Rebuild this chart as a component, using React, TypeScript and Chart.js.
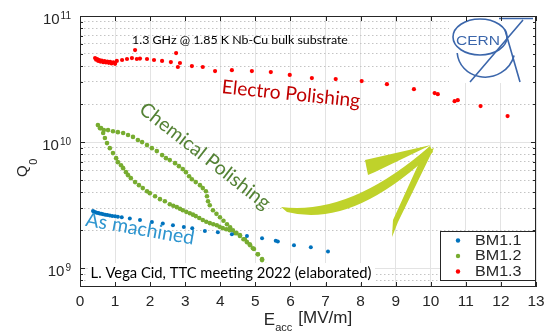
import { useEffect, useRef } from "react";
import { Chart, registerables } from "chart.js";

Chart.register(...registerables);

// Accelerating field E_acc [MV/m] and quality factor Q0 per cavity
const bm11E = [0.37, 0.4, 0.44, 0.48, 0.52, 0.56, 0.61, 0.66, 0.72, 0.78, 0.85, 0.92, 1.0, 1.08, 1.19, 1.42, 1.71, 2.05, 2.36, 2.65, 2.96, 3.2, 3.56, 3.93, 4.33, 4.76, 5.19, 5.58, 5.64, 6.1, 6.58, 7.07];
const bm11Q = [2.85e9, 2.81e9, 2.78e9, 2.76e9, 2.74e9, 2.72e9, 2.7e9, 2.68e9, 2.66e9, 2.64e9, 2.62e9, 2.6e9, 2.58e9, 2.56e9, 2.54e9, 2.48e9, 2.41e9, 2.33e9, 2.26e9, 2.19e9, 2.12e9, 2.08e9, 1.97e9, 1.93e9, 1.86e9, 1.8e9, 1.73e9, 1.65e9, 1.63e9, 1.52e9, 1.47e9, 1.36e9];

const bm12E = [
  0.51, 0.6, 0.68, 0.8, 0.94, 1.08, 1.23, 1.37, 1.51, 1.65, 1.77, 1.91, 2.05, 2.19, 2.34, 2.45, 2.56, 2.71, 2.82, 2.93, 3.02, 3.11, 3.19, 3.3, 3.42, 3.5, 3.59, 3.62, 3.65, 3.7, 3.79, 3.89, 3.99, 4.09, 4.19, 4.28, 4.36, 4.46, 4.56, 4.66, 4.76, 4.85, 4.93, 5.07, 5.19, 5.3, 5.41, 5.5,
  0.57, 0.66, 0.71, 0.77, 0.85, 0.94, 1.03, 1.08, 1.17, 1.23, 1.31, 1.37, 1.45, 1.57, 1.68, 1.79, 1.91, 1.99, 2.14, 2.28, 2.42, 2.56, 2.66, 2.76, 2.85, 2.93, 3.03, 3.13, 3.22, 3.3, 3.4, 3.5, 3.6, 3.7, 3.8, 3.9, 3.98, 4.07, 4.17, 4.27, 4.42, 4.56, 4.7, 4.84, 4.96, 5.07, 5.19, 5.3, 5.41,
];
const bm12Q = [
  1.365e10, 1.29e10, 1.245e10, 1.245e10, 1.22e10, 1.2e10, 1.18e10, 1.14e10, 1.1e10, 1.04e10, 1.0e10, 9.47e9, 8.96e9, 8.49e9, 7.89e9, 7.46e9, 7.2e9, 6.81e9, 6.45e9, 6.11e9, 5.78e9, 5.37e9, 5.08e9, 4.82e9, 4.56e9, 4.32e9, 4.08e9, 3.72e9, 3.4e9, 3.16e9, 2.88e9, 2.7e9, 2.54e9, 2.38e9, 2.23e9, 2.11e9, 2.0e9, 1.9e9, 1.8e9, 1.7e9, 1.61e9, 1.52e9, 1.44e9, 1.29e9, 1.18e9, 1.06e9, 9.47e8, 8.49e8,
  1.29e10, 1.18e10, 1.077e10, 9.82e9, 8.96e9, 8.18e9, 7.46e9, 6.94e9, 6.56e9, 6.22e9, 5.78e9, 5.47e9, 5.18e9, 4.82e9, 4.56e9, 4.32e9, 4.08e9, 3.94e9, 3.72e9, 3.53e9, 3.4e9, 3.22e9, 3.13e9, 3.05e9, 2.96e9, 2.88e9, 2.8e9, 2.73e9, 2.66e9, 2.59e9, 2.5e9, 2.41e9, 2.34e9, 2.28e9, 2.23e9, 2.19e9, 2.13e9, 2.08e9, 2.04e9, 2.0e9, 1.9e9, 1.83e9, 1.7e9, 1.55e9, 1.42e9, 1.29e9, 1.16e9, 1.04e9, 9.29e8,
];

const bm13E = [0.43, 0.46, 0.49, 0.52, 0.55, 0.58, 0.62, 0.66, 0.7, 0.74, 0.78, 0.82, 0.86, 0.9, 0.95, 1.0, 1.05, 1.2, 1.34, 1.48, 1.57, 1.62, 1.71, 1.91, 2.11, 2.34, 2.59, 2.74, 2.79, 2.85, 3.19, 3.5, 3.85, 4.33, 4.9, 5.44, 5.98, 6.61, 7.29, 8.03, 8.75, 9.52, 10.11, 10.2, 10.68, 10.77, 11.42, 12.19];
const bm13Q = [4.64e10, 4.5e10, 4.55e10, 4.4e10, 4.48e10, 4.35e10, 4.42e10, 4.3e10, 4.38e10, 4.28e10, 4.35e10, 4.25e10, 4.32e10, 4.2e10, 4.3e10, 4.18e10, 4.4e10, 4.48e10, 4.56e10, 4.64e10, 5.37e10, 4.56e10, 4.6e10, 4.56e10, 4.48e10, 4.4e10, 4.31e10, 5.08e10, 3.94e10, 4.24e10, 4.01e10, 3.94e10, 3.66e10, 3.72e10, 3.66e10, 3.59e10, 3.41e10, 3.22e10, 3.16e10, 3.05e10, 2.88e10, 2.63e10, 2.45e10, 2.4e10, 2.11e10, 2.15e10, 1.93e10, 1.61e10];

const seriesNames = ["BM1.1", "BM1.2", "BM1.3"];
const seriesColors = ["#0072BD", "#77AC30", "#FF0000"];

const xTicks = [0, 1, 2, 3, 4, 5, 6, 7, 8, 9, 10, 11, 12, 13];
const yMajor = [1e9, 1e10, 1e11];
const yMinor = [8e8, 9e8, 2e9, 3e9, 4e9, 5e9, 6e9, 7e9, 8e9, 9e9, 2e10, 3e10, 4e10, 5e10, 6e10, 7e10, 8e10, 9e10];
const yExponents = ["9", "10", "11"];
const xMin = 0;
const xMax = 13;
const yMin = 7.1e8;
const yMax = 1e11;

const AXIS = "#262626";
const SANS = "'Liberation Sans', Arial, sans-serif";
const HUMAN = "Lato, 'Open Sans', sans-serif";

function zip(xs: number[], ys: number[]) {
  return xs.map((x, i) => ({ x, y: ys[i] }));
}

function text(ctx: CanvasRenderingContext2D, s: string, x: number, y: number, font: string, color: string, align: CanvasTextAlign = "left", baseline: CanvasTextBaseline = "alphabetic", sx = 1) {
  ctx.save();
  ctx.font = font;
  ctx.fillStyle = color;
  ctx.textAlign = align;
  ctx.textBaseline = baseline;
  ctx.translate(x, y);
  ctx.scale(sx, 1);
  ctx.fillText(s, 0, 0);
  ctx.restore();
}

// Draw a label scaled to a given length, centred and rotated
function fitted(ctx: CanvasRenderingContext2D, s: string, cx: number, cy: number, width: number, color: string, deg: number) {
  ctx.save();
  ctx.font = `20px ${HUMAN}`;
  const m = ctx.measureText(s).width;
  const size = (20 * width) / m;
  ctx.font = `${size}px ${HUMAN}`;
  ctx.translate(cx, cy);
  ctx.rotate((deg * Math.PI) / 180);
  ctx.fillStyle = color;
  ctx.textAlign = "center";
  ctx.textBaseline = "middle";
  ctx.fillText(s, 0, 0);
  ctx.restore();
}

function drawLogo(ctx: CanvasRenderingContext2D) {
  ctx.save();
  ctx.fillStyle = "#fff";
  ctx.fillRect(449, 17, 86, 66);
  ctx.strokeStyle = "#3b66ab";
  ctx.lineWidth = 1.6;
  ctx.beginPath();
  ctx.ellipse(480, 37, 27, 18, 0, 0, Math.PI * 2);
  ctx.stroke();
  ctx.beginPath();
  ctx.ellipse(486, 50, 29, 27, -0.25, 0.15 * Math.PI, 1.05 * Math.PI);
  ctx.stroke();
  ctx.beginPath();
  ctx.moveTo(499, 18.5);
  ctx.lineTo(533, 18.5);
  ctx.moveTo(523, 20);
  ctx.lineTo(470, 82);
  ctx.moveTo(505, 30);
  ctx.lineTo(520, 82);
  ctx.stroke();
  ctx.restore();
  ctx.save();
  ctx.font = `13px ${SANS}`;
  const w = ctx.measureText("CERN").width;
  ctx.translate(478, 41);
  ctx.scale(44 / w, 1);
  ctx.fillStyle = "#3b66ab";
  ctx.textAlign = "center";
  ctx.textBaseline = "middle";
  ctx.fillText("CERN", 0, 0);
  ctx.restore();
}

function drawArrow(ctx: CanvasRenderingContext2D) {
  ctx.save();
  ctx.fillStyle = "#bfd22b";
  ctx.beginPath();
  ctx.moveTo(281, 207);
  ctx.quadraticCurveTo(350, 216, 430, 146);
  ctx.lineTo(433, 152);
  ctx.quadraticCurveTo(352, 229, 287, 212);
  ctx.closePath();
  ctx.fill();
  ctx.beginPath();
  ctx.moveTo(365, 160);
  ctx.lineTo(431, 145);
  ctx.lineTo(375, 172);
  ctx.lineTo(368, 175);
  ctx.closePath();
  ctx.fill();
  ctx.beginPath();
  ctx.moveTo(424, 152);
  ctx.lineTo(434, 148);
  ctx.lineTo(398, 222);
  ctx.lineTo(392, 237);
  ctx.lineTo(393, 220);
  ctx.closePath();
  ctx.fill();
  ctx.restore();
}

const decor = {
  id: "decor",
  afterDatasetsDraw(chart: any) {
    const ctx: CanvasRenderingContext2D = chart.ctx;
    const a = chart.chartArea;
    const xs = chart.scales.x;
    const ys = chart.scales.y;

    drawLogo(ctx);
    drawArrow(ctx);

    // annotations
    fitted(ctx, "1.3 GHz @ 1.85 K Nb-Cu bulk substrate", 240, 40, 216, "#000", 0);
    fitted(ctx, "Electro Polishing", 291, 94, 139, "#c00000", 5.8);
    fitted(ctx, "Chemical Polishing", 205, 156, 160, "#548235", 38);
    fitted(ctx, "As machined", 140, 229, 110, "#2e95cf", 10);
    ctx.fillStyle = "#fff";
    ctx.fillRect(88, 263, 287, 20);
    fitted(ctx, "L. Vega Cid, TTC meeting 2022 (elaborated)", 231, 273, 281, "#000", 0);

    // axes box and inward ticks
    ctx.save();
    ctx.strokeStyle = AXIS;
    ctx.lineWidth = 1;
    ctx.strokeRect(a.left + 0.5, a.top + 0.5, a.right - a.left - 1, a.bottom - a.top - 1);
    ctx.beginPath();
    for (const v of xTicks) {
      const px = Math.round(xs.getPixelForValue(v)) + 0.5;
      ctx.moveTo(px, a.bottom);
      ctx.lineTo(px, a.bottom - 5);
      ctx.moveTo(px, a.top);
      ctx.lineTo(px, a.top + 5);
    }
    for (const v of yMajor) {
      const py = Math.round(ys.getPixelForValue(v)) + 0.5;
      ctx.moveTo(a.left, py);
      ctx.lineTo(a.left + 5, py);
      ctx.moveTo(a.right, py);
      ctx.lineTo(a.right - 5, py);
    }
    for (const v of yMinor) {
      const py = Math.round(ys.getPixelForValue(v)) + 0.5;
      ctx.moveTo(a.left, py);
      ctx.lineTo(a.left + 3, py);
      ctx.moveTo(a.right, py);
      ctx.lineTo(a.right - 3, py);
    }
    ctx.stroke();
    ctx.restore();

    // x tick labels
    for (const v of xTicks) {
      text(ctx, String(v), xs.getPixelForValue(v), a.bottom + 15, `14px ${SANS}`, AXIS, "center", "middle", 1.1);
    }
    // y tick labels: 10 with superscript exponent
    yMajor.forEach((v, i) => {
      const py = ys.getPixelForValue(v);
      const right = 71;
      ctx.save();
      ctx.font = `10px ${SANS}`;
      const ew = ctx.measureText(yExponents[i]).width;
      ctx.restore();
      text(ctx, yExponents[i], right, py + 3, `10px ${SANS}`, AXIS, "right");
      text(ctx, "10", right - ew - 1, py + 8, `15px ${SANS}`, AXIS, "right");
    });

    // axis titles
    ctx.save();
    ctx.fillStyle = AXIS;
    ctx.textBaseline = "alphabetic";
    ctx.font = `17px ${SANS}`;
    const eW = ctx.measureText("E").width;
    ctx.font = `11px ${SANS}`;
    const subW = ctx.measureText("acc").width;
    ctx.font = `17px ${SANS}`;
    const unitW = ctx.measureText("[MV/m]").width;
    const total = eW + subW + 6 + unitW;
    const x0 = (a.left + a.right) / 2 - total / 2;
    ctx.fillText("E", x0, 325);
    ctx.font = `11px ${SANS}`;
    ctx.fillText("acc", x0 + eW, 331);
    ctx.font = `17px ${SANS}`;
    ctx.fillText("[MV/m]", x0 + eW + subW + 6, 323);
    ctx.restore();

    ctx.save();
    ctx.fillStyle = AXIS;
    ctx.translate(27, 177);
    ctx.rotate(-Math.PI / 2);
    ctx.font = `15px ${SANS}`;
    ctx.fillText("Q", 0, 0);
    const qW = ctx.measureText("Q").width;
    ctx.font = `11px ${SANS}`;
    ctx.fillText("0", qW + 0.5, 10);
    ctx.restore();

    // legend
    ctx.save();
    ctx.fillStyle = "#fff";
    ctx.fillRect(440.5, 231.5, 95, 49);
    ctx.strokeStyle = AXIS;
    ctx.lineWidth = 1;
    ctx.strokeRect(440.5, 231.5, 95, 49);
    seriesNames.forEach((n, i) => {
      const ly = 240.5 + i * 15.5;
      ctx.fillStyle = seriesColors[i];
      ctx.beginPath();
      ctx.arc(458, ly, 2.2, 0, Math.PI * 2);
      ctx.fill();
      text(ctx, n, 475, ly + 0.5, `14px ${SANS}`, AXIS, "left", "middle", 1.15);
    });
    ctx.restore();
  },
};

export default function App() {
  const ref = useRef<HTMLCanvasElement | null>(null);

  useEffect(() => {
    if (!ref.current) return;
    const isMajor = (v: number) => yMajor.includes(v);
    const chart = new Chart(ref.current, {
      type: "scatter",
      data: {
        datasets: [
          { label: seriesNames[0], data: zip(bm11E, bm11Q), backgroundColor: seriesColors[0], pointRadius: 2, borderWidth: 0 },
          { label: seriesNames[1], data: zip(bm12E, bm12Q), backgroundColor: seriesColors[1], pointRadius: 2.3, borderWidth: 0 },
          { label: seriesNames[2], data: zip(bm13E, bm13Q), backgroundColor: seriesColors[2], pointRadius: 2.1, borderWidth: 0 },
        ],
      },
      options: {
        responsive: false,
        animation: false,
        devicePixelRatio: 1,
        layout: { padding: { left: 0, top: 16, right: 22, bottom: 0 } },
        plugins: { legend: { display: false }, tooltip: { enabled: false } },
        scales: {
          x: {
            type: "linear",
            min: xMin,
            max: xMax,
            afterBuildTicks: (s: any) => {
              s.ticks = xTicks.map((v) => ({ value: v }));
            },
            afterFit: (s: any) => {
              s.height = 48;
            },
            ticks: { display: false },
            grid: { color: "#e3e3e3", lineWidth: 1, drawTicks: false },
            border: { display: false },
          },
          y: {
            type: "logarithmic",
            min: yMin,
            max: yMax,
            afterBuildTicks: (s: any) => {
              s.ticks = [...yMajor, ...yMinor].map((v) => ({ value: v, major: isMajor(v) }));
            },
            afterFit: (s: any) => {
              s.width = 80;
            },
            ticks: { display: false },
            grid: {
              color: (c: any) => (c.tick && isMajor(c.tick.value) ? "#e3e3e3" : "#c4c4c4"),
              lineWidth: 1,
              drawTicks: false,
            },
            border: {
              display: false,
              dash: (c: any) => (c.tick && isMajor(c.tick.value) ? [] : [1.5, 2.5]),
            },
          },
        },
      } as any,
      plugins: [decor],
    });
    return () => chart.destroy();
  }, []);

  return (
    <div style={{ position: "absolute", left: 0, top: 0, width: 558, height: 335, background: "#fff" }}>
      <canvas ref={ref} width={558} height={335} style={{ display: "block" }} />
    </div>
  );
}
